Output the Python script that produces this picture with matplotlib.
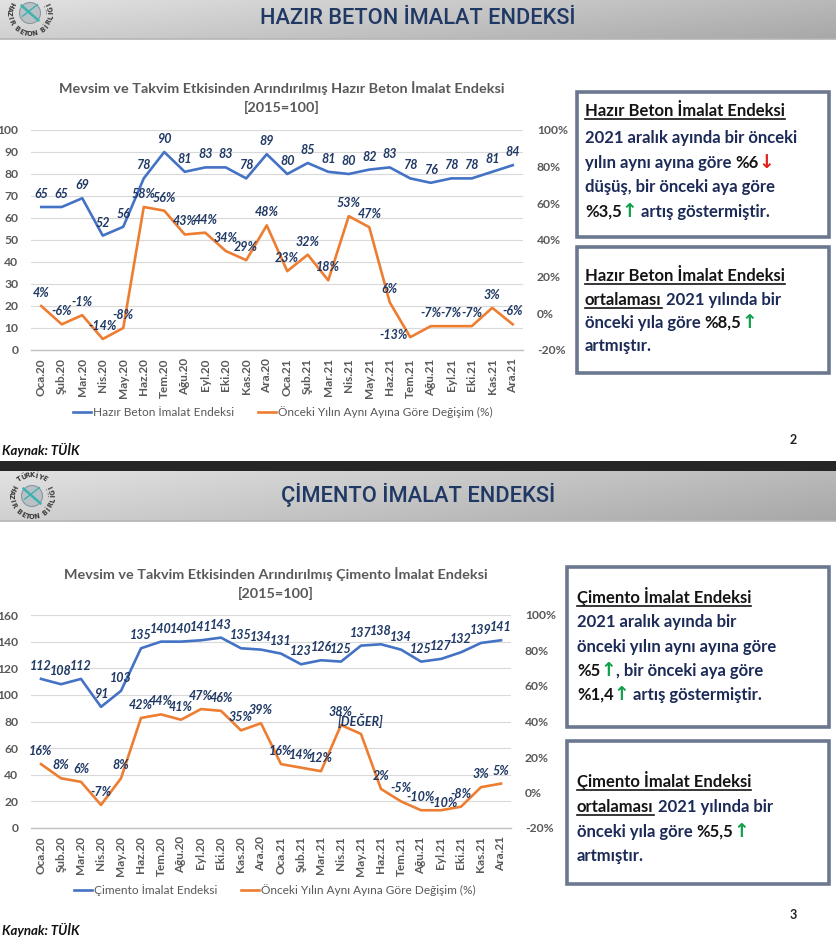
import matplotlib
matplotlib.use("Agg")
import matplotlib.pyplot as plt
import numpy as np
from matplotlib.patches import Rectangle, Circle
from matplotlib.lines import Line2D
from matplotlib.ticker import FuncFormatter, MultipleLocator

# ---------------- data ----------------
months = ["Oca.20", "Şub.20", "Mar.20", "Nis.20", "May.20", "Haz.20", "Tem.20",
          "Ağu.20", "Eyl.20", "Eki.20", "Kas.20", "Ara.20", "Oca.21", "Şub.21",
          "Mar.21", "Nis.21", "May.21", "Haz.21", "Tem.21", "Ağu.21", "Eyl.21",
          "Eki.21", "Kas.21", "Ara.21"]
beton_index = [65, 65, 69, 52, 56, 78, 90, 81, 83, 83, 78, 89,
               80, 85, 81, 80, 82, 83, 78, 76, 78, 78, 81, 84]
beton_change = [4, -6, -1, -14, -8, 58, 56, 43, 44, 34, 29, 48,
                23, 32, 18, 53, 47, 6, -13, -7, -7, -7, 3, -6]
cimento_index = [112, 108, 112, 91, 103, 135, 140, 140, 141, 143, 135, 134,
                 131, 123, 126, 125, 137, 138, 134, 125, 127, 132, 139, 141]
cimento_change = [16, 8, 6, -7, 8, 42, 44, 41, 47, 46, 35, 39,
                  16, 14, 12, 38, 33, 2, -5, -10, -10, -8, 3, 5]
cimento_change_labels = [f"{v}%" for v in cimento_change]
cimento_change_labels[16] = "[DEĞER]"
beton_change_labels = [f"{v}%" for v in beton_change]

slide1_title = "HAZIR BETON İMALAT ENDEKSİ"
slide2_title = "ÇİMENTO İMALAT ENDEKSİ"
chart1_title = ["Mevsim ve Takvim Etkisinden Arındırılmış Hazır Beton İmalat Endeksi", "[2015=100]"]
chart2_title = ["Mevsim ve Takvim Etkisinden Arındırılmış Çimento İmalat Endeksi", "[2015=100]"]
legend1 = ["Hazır Beton İmalat Endeksi", "Önceki Yılın Aynı Ayına Göre Değişim (%)"]
legend2 = ["Çimento İmalat Endeksi", "Önceki Yılın Aynı Ayına Göre Değişim (%)"]
source_text = "Kaynak: TÜİK"

# ---------------- style ----------------
W, H = 837, 939
FONT = ["Lato", "DejaVu Sans"]
NAVY = "#1f3864"
BOXTXT = "#1c2a57"
GRAY = "#595959"
BLUE = "#4472C4"
ORANGE = "#ED7D31"
RED = "#e3211c"
GREEN = "#10a04a"

plt.rcParams["font.family"] = FONT

fig = plt.figure(figsize=(W / 100, H / 100), dpi=100)
fig.patch.set_facecolor("white")
renderer = fig.canvas.get_renderer()

bg = fig.add_axes([0, 0, 1, 1], zorder=0)
bg.set_xlim(0, W)
bg.set_ylim(H, 0)
bg.axis("off")


def rect(x0, y0, x1, y1):
    return [x0 / W, 1 - y1 / H, (x1 - x0) / W, (y1 - y0) / H]


def header(y0, y1, title, tx, ty, target_w):
    nx, ny = 300, 40
    xx = np.linspace(0, 1, nx)[None, :]
    yy = np.linspace(0, 1, ny)[:, None]
    val = 0.885 - 0.16 * xx - 0.07 * yy
    bg.imshow(val, extent=[0, W, y1, y0], cmap="gray", vmin=0, vmax=1,
              aspect="auto", zorder=1, interpolation="bilinear")
    bg.add_line(Line2D([0, W], [y1, y1], color="#b5b5b5", lw=1.2, zorder=2))
    t = bg.text(tx, ty, title, ha="center", va="center", fontsize=20,
                family=["Roboto", "DejaVu Sans"], fontweight="medium",
                color=NAVY, zorder=3)
    w = t.get_window_extent(renderer).width
    t.set_fontsize(20 * target_w / w)


def logo(cx, cy, R, top_text=None):
    bg.add_patch(Circle((cx, cy), R * 0.5, facecolor="#b9c1c6",
                        edgecolor="#8b969c", lw=0.8, zorder=3))
    bg.add_line(Line2D([cx - R * 0.4, cx + R * 0.4], [cy - R * 0.35, cy + R * 0.35],
                       color="#3bb3b0", lw=1.8, zorder=4))
    bg.add_line(Line2D([cx - R * 0.35, cx + R * 0.35], [cy + R * 0.15, cy - R * 0.4],
                       color="#3bb3b0", lw=1.0, zorder=4))
    ring = "HAZIR BETON BİRLİĞİ"
    angs = np.linspace(205, -25, len(ring))
    for ch, a in zip(ring, angs):
        t = np.deg2rad(a)
        bg.text(cx + R * np.cos(t), cy + R * np.sin(t), ch, fontsize=4.8,
                fontweight="bold", color="#3a3a3a", rotation=90 - a,
                ha="center", va="center", zorder=4, family=["DejaVu Sans"])
    if top_text:
        angs = np.linspace(235, 305, len(top_text))
        for ch, a in zip(top_text, angs):
            t = np.deg2rad(a)
            bg.text(cx + R * np.cos(t), cy + R * np.sin(t), ch, fontsize=4.8,
                    fontweight="bold", color="#3a3a3a", rotation=270 - a,
                    ha="center", va="center", zorder=4, family=["DejaVu Sans"])


# headers
header(0, 39, slide1_title, 418, 18, 315)
bg.add_patch(Rectangle((0, 461), W, 10, facecolor="#262626", edgecolor="none", zorder=2))
header(471, 521, slide2_title, 418, 495, 273)
logo(30, 13, 21)
logo(32, 496, 21, top_text="TÜRKİYE")

# source + page numbers
for yy in (450, 930):
    bg.text(2, yy, source_text, fontsize=9.5, fontweight="bold", style="italic",
            color="#111111", ha="left", va="center")
bg.text(793, 440, "2", fontsize=9, fontweight="bold", color="#222222", ha="center", va="center")
bg.text(793, 915, "3", fontsize=9, fontweight="bold", color="#222222", ha="center", va="center")


def pct_fmt(v, pos):
    return f"{int(round(v * 100))}%"


def chart(px, index_vals, change_vals, change_labels, ymax, ystep,
          title_lines, title_x, title_y, leg_labels, leg_xy, offsets):
    ax = fig.add_axes(rect(*px), zorder=5)
    ax.set_facecolor("none")
    x = np.arange(len(months))
    ax.plot(x, index_vals, color=BLUE, lw=1.9, solid_joinstyle="round", zorder=3)
    ax.set_xlim(-0.5, len(months) - 0.5)
    ax.set_ylim(0, ymax)
    ax.yaxis.set_major_locator(MultipleLocator(ystep))
    ax.grid(axis="y", color="#d9d9d9", lw=0.8)
    ax.set_axisbelow(True)
    for s in ("top", "left", "right"):
        ax.spines[s].set_visible(False)
    ax.spines["bottom"].set_color("#bfbfbf")
    ax.spines["bottom"].set_linewidth(1.0)
    ax.tick_params(axis="both", length=0, colors=GRAY)
    ax.tick_params(axis="y", pad=9, labelsize=8.7)
    ax.tick_params(axis="x", pad=6, labelsize=8.5)
    ax.set_xticks(x)
    ax.set_xticklabels(months, rotation=90, fontweight="bold")
    for lab in ax.get_yticklabels():
        lab.set_fontweight("bold")

    ax2 = ax.twinx()
    ax2.set_zorder(ax.get_zorder() + 1)
    ax2.plot(x, np.array(change_vals) / 100.0, color=ORANGE, lw=1.9,
             solid_joinstyle="round")
    ax2.set_ylim(-0.2, 1.0)
    ax2.set_yticks(np.arange(-0.2, 1.01, 0.2))
    ax2.yaxis.set_major_formatter(FuncFormatter(pct_fmt))
    for s in ax2.spines.values():
        s.set_visible(False)
    ax2.tick_params(axis="y", length=0, colors=GRAY, pad=10, labelsize=8.7)
    for lab in ax2.get_yticklabels():
        lab.set_fontweight("bold")

    for i, v in enumerate(index_vals):
        ax2.annotate(str(v), (i, v), xycoords=ax.transData, xytext=(0, 13),
                     textcoords="offset pixels", ha="center", va="center",
                     fontsize=9, fontweight="bold", style="italic", color=NAVY)
    for i, (v, lab) in enumerate(zip(change_vals, change_labels)):
        dx, dy = offsets.get(i, (0, 0))
        ax2.annotate(lab, (i, v / 100.0), xytext=(dx, 13 + dy),
                     textcoords="offset pixels", ha="center", va="center",
                     fontsize=9, fontweight="bold", style="italic", color=NAVY)

    for k, line in enumerate(title_lines):
        bg.text(title_x, title_y + 19 * k, line, ha="center", va="center",
                fontsize=10.4, fontweight="bold", color=GRAY)

    handles = [Line2D([], [], color=BLUE, lw=1.9), Line2D([], [], color=ORANGE, lw=1.9)]
    fig.legend(handles, leg_labels, loc="center",
               bbox_to_anchor=(leg_xy[0] / W, 1 - leg_xy[1] / H),
               ncol=2, frameon=False, handlelength=1.5, handletextpad=0.15,
               columnspacing=2.0, prop={"size": 8.6, "family": FONT},
               labelcolor=GRAY)
    return ax, ax2


chart((31, 130, 523, 350), beton_index, beton_change, beton_change_labels, 100, 10,
      chart1_title, 282, 88, legend1, (283, 412), {18: (-17, -11)})
chart((31, 615, 511, 828), cimento_index, cimento_change, cimento_change_labels, 160, 20,
      chart2_title, 276, 574, legend2, (275, 890), {20: (3, -6)})

# ---------------- text boxes ----------------
BOX_FS = 12.0


def twidth(s, **kw):
    t = bg.text(0, 0, s + "x", **kw)
    w1 = t.get_window_extent(renderer).width
    t.remove()
    t = bg.text(0, 0, "x", **kw)
    w2 = t.get_window_extent(renderer).width
    t.remove()
    return w1 - w2


def rich_line(x, y, pieces, fs=BOX_FS):
    for txt, color, ul in pieces:
        arrow = txt in ("↑", "↓")
        fam = ["DejaVu Sans"] if arrow else FONT
        kw = dict(fontsize=fs + (1.5 if arrow else 0), fontweight="bold", family=fam)
        bg.text(x, y, txt, color=color, ha="left", va="baseline", zorder=6, **kw)
        w = twidth(txt, **kw)
        if ul:
            bg.add_line(Line2D([x, x + w], [y + 3, y + 3], color=color, lw=1.2, zorder=6))
        x += w


def box(x0, y0, x1, y1, tx, baselines, lines):
    bg.add_patch(Rectangle((x0, y0), x1 - x0, y1 - y0, facecolor="white",
                           edgecolor="#6b7890", lw=2.6, zorder=5))
    for yb, pcs in zip(baselines, lines):
        rich_line(tx, yb, pcs)


D = BOXTXT
K = "#141414"
box(577, 92, 829, 237, 585, [116, 143, 168, 192, 217], [
    [("Hazır Beton İmalat Endeksi", K, True)],
    [("2021 aralık ayında bir önceki", D, False)],
    [("yılın aynı ayına göre ", D, False), ("%6", K, False), ("↓", RED, False)],
    [("düşüş, bir önceki aya göre", D, False)],
    [("%3,5", K, False), ("↑", GREEN, False), (" artış göstermiştir.", D, False)],
])
box(577, 247, 829, 373, 585, [281, 305, 328, 351], [
    [("Hazır Beton İmalat Endeksi", K, True)],
    [("ortalaması", K, True), (" 2021 yılında bir", D, False)],
    [("önceki yıla göre ", D, False), ("%8,5", K, False), ("↑", GREEN, False)],
    [("artmıştır.", D, False)],
])
box(567, 567, 829, 727, 577, [603, 627, 652, 676, 700], [
    [("Çimento İmalat Endeksi", K, True)],
    [("2021 aralık ayında bir", D, False)],
    [("önceki yılın aynı ayına göre", D, False)],
    [("%5", K, False), ("↑", GREEN, False), (", bir önceki aya göre", D, False)],
    [("%1,4", K, False), ("↑", GREEN, False), (" artış göstermiştir.", D, False)],
])
box(567, 741, 829, 884, 577, [787, 812, 837, 861], [
    [("Çimento İmalat Endeksi", K, True)],
    [("ortalaması", K, True), (" 2021 yılında bir", D, False)],
    [("önceki yıla göre ", D, False), ("%5,5", K, False), ("↑", GREEN, False)],
    [("artmıştır.", D, False)],
])

fig.savefig("out.png", dpi=100)
